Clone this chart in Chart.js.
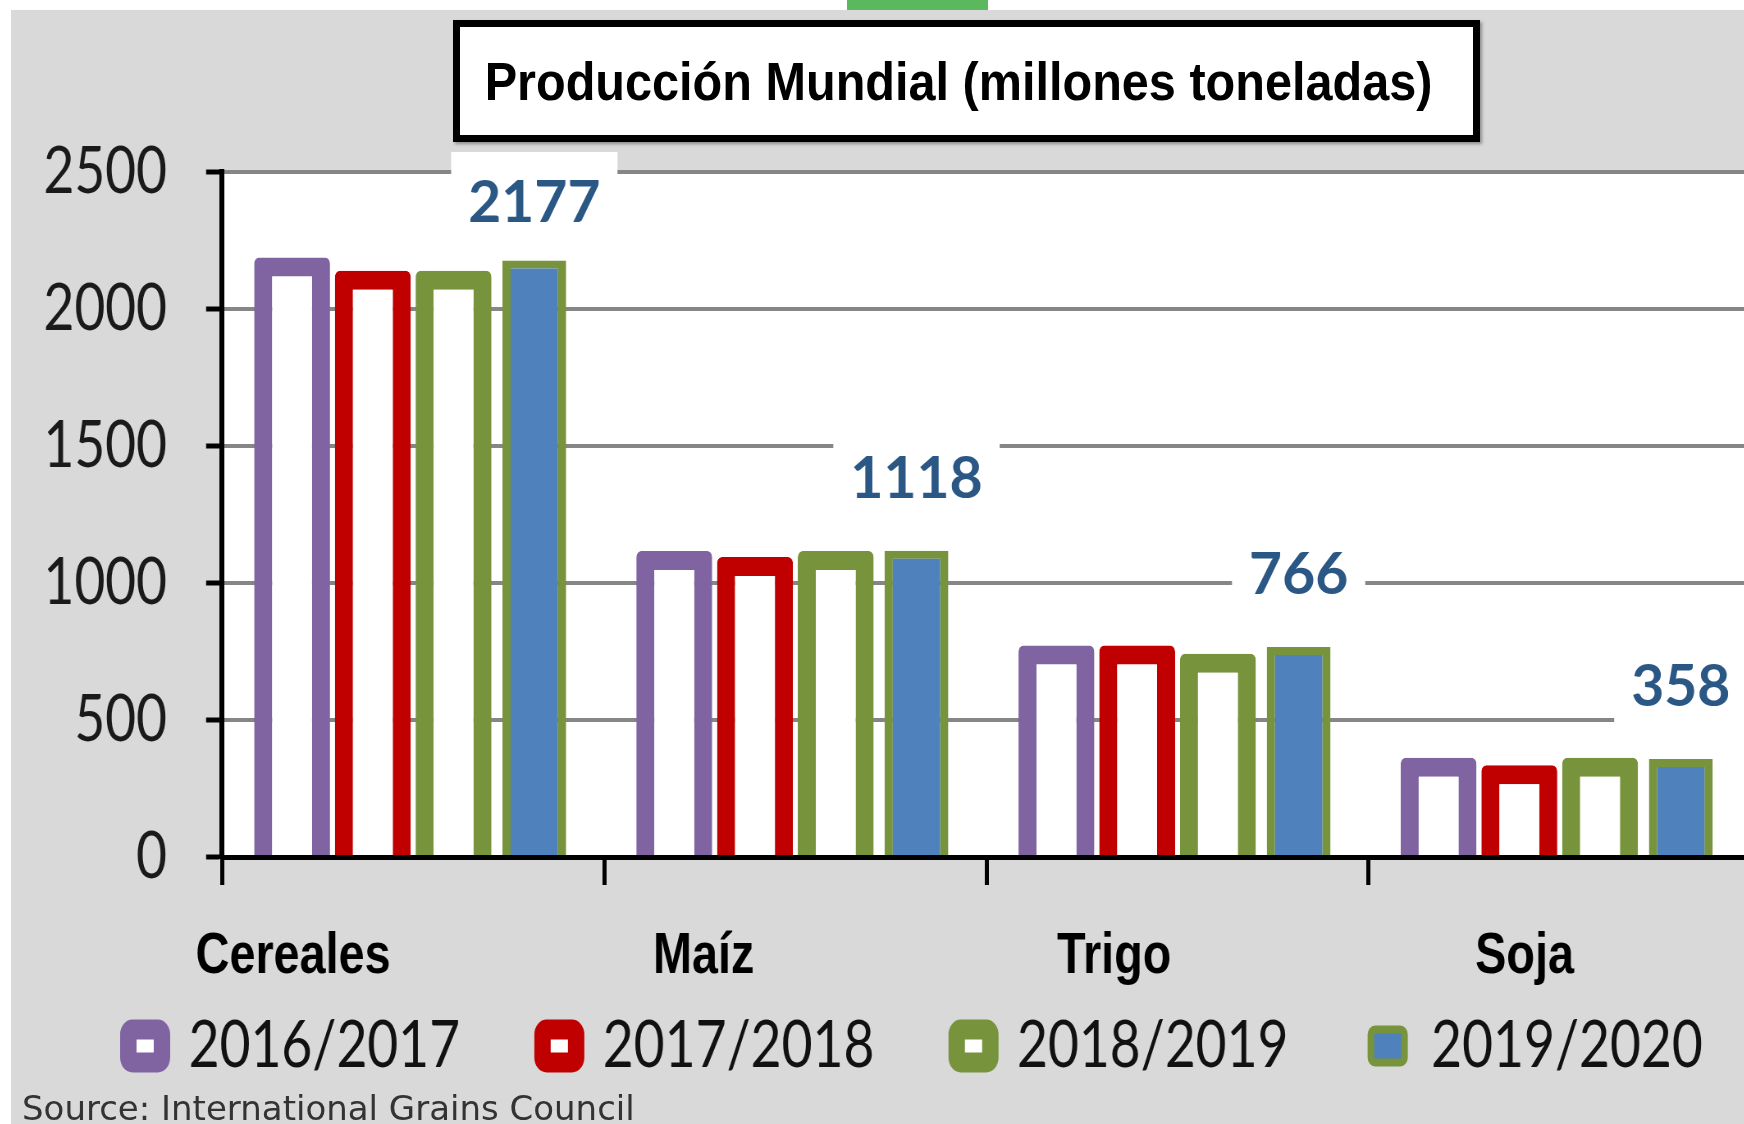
<!DOCTYPE html>
<html>
<head>
<meta charset="utf-8">
<script src="https://cdn.jsdelivr.net/npm/chart.js@4.4.1/dist/chart.umd.min.js"></script>
<style>
  html, body { margin: 0; padding: 0; background: #fff; overflow: hidden; width: 1744px; height: 1124px; }
  #greenTab { position: absolute; left: 847px; top: 0; width: 141px; height: 13px; background: #5cb85c; }
  #panel { position: absolute; left: 11px; top: 10px; width: 1800px; height: 1114px; background: #d9d9d9; overflow: hidden; }
  #chartBox { position: absolute; left: 0; top: 0; height: 1114px; transform-origin: 0 0; }
  #titleBox {
    position: absolute; left: 453px; top: 20px; width: 1027px; height: 122px;
    box-sizing: border-box; border: 7px solid #000; background: #fff;
    box-shadow: 2px 2px 3px rgba(0,0,0,0.35);
    display: flex; align-items: center; justify-content: center; overflow: visible;
  }
  #titleBox span {
    display: inline-block; white-space: nowrap; transform: scaleX(0.9);
    position: relative; left: -8px;
    font: bold 54px 'Liberation Sans', Arial, sans-serif; color: #000;
  }
  #source {
    position: absolute; left: 22px; top: 1088px; line-height: 1; white-space: nowrap;
    font: 34px 'DejaVu Sans', Verdana, sans-serif; color: #333;
  }
</style>
</head>
<body>
<div id="greenTab"></div>
<div id="panel">
  <div id="chartBox"><canvas id="chart"></canvas></div>
</div>
<div id="titleBox"><span>Producción Mundial (millones toneladas)</span></div>
<div id="source">Source: International Grains Council</div>
<script>
// data (millones de toneladas)
const categories = ['Cereales', 'Maíz', 'Trigo', 'Soja'];
const seasons = ['2016/2017', '2017/2018', '2018/2019', '2019/2020'];
const prod2016 = [2188, 1117, 772, 362];
const prod2017 = [2140, 1095, 772, 335];
const prod2018 = [2140, 1117, 742, 362];
const prod2019 = [2177, 1118, 766, 358];
const yTicks = [0, 500, 1000, 1500, 2000, 2500];

// the original picture is squeezed horizontally: draw wide, then scale the canvas
const K = 0.82;
const AREA_LEFT = 211 / K;      // plot area edges, in unscaled canvas px
const AREA_RIGHT = 1739 / K;
const RIGHT_GAP = 60;           // empty right axis so the legend row fits
const PAD_RIGHT = 7;
const CANVAS_W = AREA_RIGHT + RIGHT_GAP + PAD_RIGHT;

const LEGEND_FONT = 65;
const LEGEND_BOX = 41;
const LEGEND_STEP = 414 / K;
const LEGEND_START = 143;

const meas = document.createElement('canvas').getContext('2d');
meas.font = LEGEND_FONT + 'px Lato';
const legendTextW = meas.measureText(seasons[0]).width;
const legendPad = LEGEND_STEP - (LEGEND_BOX + LEGEND_FONT / 2 + legendTextW);
const padLeft = 2 * LEGEND_START + 4 * LEGEND_STEP - legendPad - (AREA_RIGHT + RIGHT_GAP);
const spacer = Math.max(128.5 - legendPad, 1);
const legendH = LEGEND_FONT + legendPad + 10;
const padBottom = Math.max(239 - spacer - legendH, 0);

const box = document.getElementById('chartBox');
box.style.width = CANVAS_W + 'px';
box.style.transform = 'scaleX(' + K + ')';

// white plot area, grey everywhere else
const plotBackground = {
    id: 'plotBackground',
    beforeDraw(chart) {
        const {ctx, chartArea} = chart;
        ctx.save();
        ctx.fillStyle = '#ffffff';
        ctx.fillRect(chartArea.left, chartArea.top, chartArea.right - chartArea.left, chartArea.bottom - chartArea.top);
        ctx.restore();
    }
};

// value labels over the 2019/2020 bars, on a white box
const valueLabels = {
    id: 'valueLabels',
    afterDatasetsDraw(chart) {
        const ctx = chart.ctx;
        const meta = chart.getDatasetMeta(3);
        meta.data.forEach((bar, i) => {
            const txt = String(prod2019[i]);
            const cy = Math.max(bar.y - 73, chart.chartArea.top + 30);
            ctx.save();
            ctx.translate(bar.x, cy);
            ctx.scale(1 / K, 1);
            ctx.font = "bold 57px Lato, 'Open Sans', sans-serif";
            ctx.textAlign = 'center';
            ctx.textBaseline = 'middle';
            const w = ctx.measureText(txt).width + 34;
            ctx.fillStyle = '#ffffff';
            ctx.fillRect(-w / 2, -50, w, 100);
            ctx.fillStyle = '#2b5785';
            ctx.fillText(txt, 0, 2);
            ctx.restore();
        });
    }
};

const outlined = (label, data, color) => ({
    label: label,
    data: data,
    backgroundColor: '#ffffff',
    borderColor: color,
    borderWidth: { top: 19, left: 22, right: 22, bottom: 0 },
    borderRadius: 6,
    barPercentage: 0.94
});

const chart = new Chart(document.getElementById('chart'), {
    type: 'bar',
    data: {
        labels: categories,
        datasets: [
            outlined(seasons[0], prod2016, '#8064a2'),
            outlined(seasons[1], prod2017, '#c00000'),
            outlined(seasons[2], prod2018, '#77933c'),
            {
                label: seasons[3],
                data: prod2019,
                backgroundColor: '#4f81bd',
                borderColor: '#77933c',
                borderWidth: { top: 8, left: 10, right: 10, bottom: 0 },
                borderRadius: 0,
                barPercentage: 0.79
            }
        ]
    },
    options: {
        responsive: true,
        maintainAspectRatio: false,
        animation: false,
        layout: { padding: { top: 162, left: padLeft, right: PAD_RIGHT, bottom: padBottom } },
        datasets: { bar: { categoryPercentage: 0.845 } },
        plugins: {
            tooltip: { enabled: false },
            legend: {
                position: 'bottom',
                labels: {
                    font: { family: 'Lato', size: LEGEND_FONT },
                    color: '#111111',
                    boxWidth: LEGEND_BOX,
                    boxHeight: 33,
                    padding: legendPad,
                    useBorderRadius: true,
                    borderRadius: 5,
                    generateLabels(chart) {
                        const items = Chart.defaults.plugins.legend.labels.generateLabels(chart);
                        items.forEach((it, i) => { it.lineWidth = i < 3 ? 20 : 8; });
                        return items;
                    }
                }
            }
        },
        scales: {
            x: {
                ticks: { display: false },
                grid: { display: true, drawOnChartArea: false, offset: true, tickLength: 28, tickColor: '#000', tickWidth: 5 },
                border: { color: '#000', width: 5 },
                // empty title only used as a spacer above the legend
                title: { display: true, text: '', font: { size: spacer, lineHeight: 1 }, padding: 0 }
            },
            xl: {
                type: 'linear',
                axis: 'x',
                position: { y: 0 },
                offset: false,
                bounds: 'data',
                min: -0.173,
                max: 3.551,
                afterBuildTicks: (axis) => { axis.ticks = categories.map((c, i) => ({ value: i })); },
                ticks: {
                    callback: (v) => categories[v],
                    font: { family: "'Liberation Sans', Arial, sans-serif", size: 57, weight: 'bold' },
                    color: '#000',
                    padding: 66,
                    autoSkip: false,
                    maxRotation: 0
                },
                grid: { display: false, drawTicks: false, offset: false },
                border: { display: false }
            },
            y: {
                min: 0,
                max: 2500,
                afterBuildTicks: (axis) => { axis.ticks = yTicks.map(v => ({ value: v })); },
                afterFit: (axis) => { axis.width = AREA_LEFT - padLeft; },
                ticks: {
                    callback: (v) => String(v),
                    font: { family: 'Lato', size: 65 },
                    color: '#1a1a1a',
                    padding: 39 / K
                },
                grid: { color: '#868686', lineWidth: 4, tickLength: 16 / K, tickColor: '#000', tickWidth: 5 },
                border: { color: '#000', width: 6 }
            },
            yr: {
                type: 'linear',
                axis: 'y',
                position: 'right',
                afterFit: (axis) => { axis.width = RIGHT_GAP; },
                ticks: { display: false },
                grid: { display: false, drawTicks: false },
                border: { display: false }
            }
        }
    },
    plugins: [plotBackground, valueLabels]
});
</script>
</body>
</html>
